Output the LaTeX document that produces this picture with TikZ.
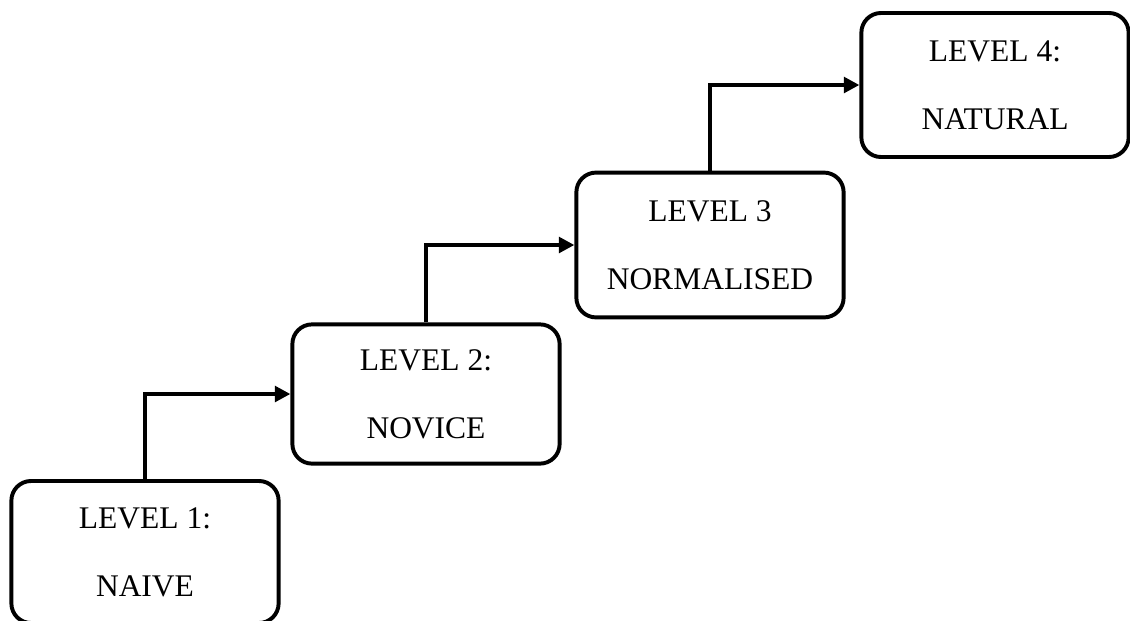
\documentclass[tikz,border=0pt]{standalone}
\usepackage{fontspec}
\setmainfont{Liberation Serif}
\usetikzlibrary{arrows.meta,positioning}

\tikzset{
  levelbox/.style={draw,line width=2.8pt,rounded corners=14pt,minimum width=6.68cm,minimum height=3.48cm,align=center,font=\fontsize{22.4}{48.3}\selectfont},
  stepline/.style={line width=2.7pt,-{Triangle[length=11pt,width=11pt]}}
}

\begin{document}
\begin{tikzpicture}[x=0.025cm,y=-0.025cm]
\useasboundingbox (0,0) rectangle (1130,620);
% the four levels
\node[levelbox,minimum height=3.55cm] (naive) at (145,552) {LEVEL 1:\\NAIVE};
\node[levelbox] (novice) at (426,394) {LEVEL 2:\\NOVICE};
\node[levelbox,minimum height=3.62cm] (normalised) at (710,245) {LEVEL 3\\NORMALISED};
\node[levelbox,minimum height=3.6cm] (natural) at (995,85) {LEVEL 4:\\NATURAL};
% steps up
\draw[stepline] (naive.north) |- (novice.west);
\draw[stepline] (novice.north) |- (normalised.west);
\draw[stepline] (normalised.north) |- (natural.west);
\end{tikzpicture}
\end{document}
